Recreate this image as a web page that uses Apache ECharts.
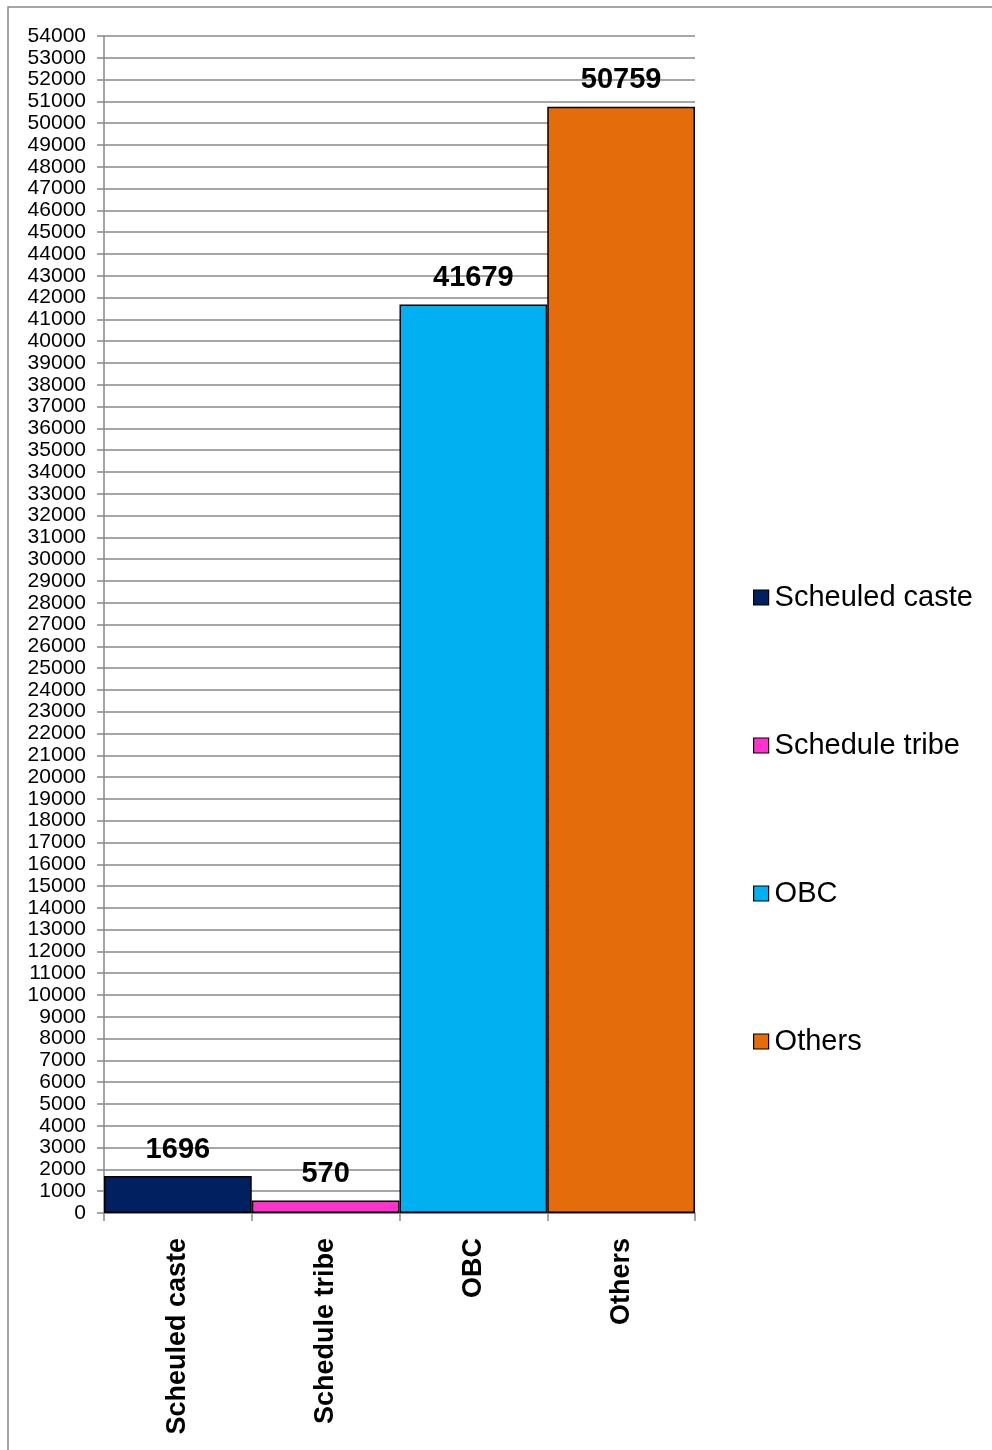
<!DOCTYPE html>
<html>
<head>
<meta charset="utf-8">
<script src="https://cdn.jsdelivr.net/npm/echarts@6/dist/echarts.min.js"></script>
<style>
  html, body { margin: 0; padding: 0; background: #fff; }
  #chart { width: 992px; height: 1450px; }
</style>
</head>
<body>
<div id="chart"></div>
<script>
// categories and values
var categories = ['Scheuled caste', 'Schedule tribe', 'OBC', 'Others'];
var counts = [1696, 570, 41679, 50759];
var colors = ['#002060', '#FF33CC', '#00B0F0', '#E46C0A'];

var chartDom = document.getElementById('chart');
var myChart = echarts.init(chartDom);

// one series per category so the legend shows each, stacked so every bar fills its slot
var series = categories.map(function (name, i) {
    var data = categories.map(function (c, j) { return j === i ? counts[i] : '-'; });
    return {
        name: name,
        type: 'bar',
        stack: 'all',
        barWidth: '100%',
        data: data,
        itemStyle: { color: colors[i], borderColor: '#000', borderWidth: 1.5 },
        label: {
            show: true,
            position: 'top',
            distance: 12,
            color: '#000',
            fontFamily: 'Liberation Sans, Arial',
            fontWeight: 'bold',
            fontSize: 29
        }
    };
});

var option = {
    animation: false,
    backgroundColor: '#fff',
    textStyle: { fontFamily: 'Liberation Sans, Arial' },
    graphic: [{
        type: 'rect',
        shape: { x: 8, y: 7, width: 1100, height: 1600 },
        style: { fill: 'none', stroke: '#888', lineWidth: 1.5 },
        silent: true
    }],
    grid: { left: 104, right: 297, top: 36, bottom: 237, containLabel: false, outerBoundsMode: 'none' },
    legend: {
        orient: 'vertical',
        left: 748,
        top: 578,
        itemWidth: 15,
        itemHeight: 15,
        itemGap: 119,
        icon: 'rect',
        itemStyle: { borderColor: '#000', borderWidth: 1.2 },
        textStyle: { fontSize: 29, color: '#000', fontFamily: 'Liberation Sans, Arial', padding: [0, 0, 0, 1] },
        data: categories
    },
    xAxis: {
        type: 'category',
        data: categories,
        axisLine: { lineStyle: { color: '#888', width: 1.5 } },
        axisTick: { show: true, length: 8, lineStyle: { color: '#888', width: 1.5 } },
        axisLabel: {
            rotate: 90,
            margin: 25,
            color: '#000',
            fontWeight: 'bold',
            fontSize: 27,
            fontFamily: 'Liberation Sans, Arial'
        }
    },
    yAxis: {
        type: 'value',
        min: 0,
        max: 54000,
        interval: 1000,
        axisLine: { show: true, lineStyle: { color: '#888', width: 1.5 } },
        axisTick: { show: true, length: 7, lineStyle: { color: '#888', width: 1.5 } },
        splitLine: { lineStyle: { color: '#888', width: 1.5 } },
        axisLabel: {
            color: '#000', fontSize: 21, margin: 18, fontFamily: 'Liberation Sans, Arial',
            formatter: function (v) { return String(v); }
        }
    },
    series: series
};

myChart.setOption(option);
</script>
</body>
</html>
